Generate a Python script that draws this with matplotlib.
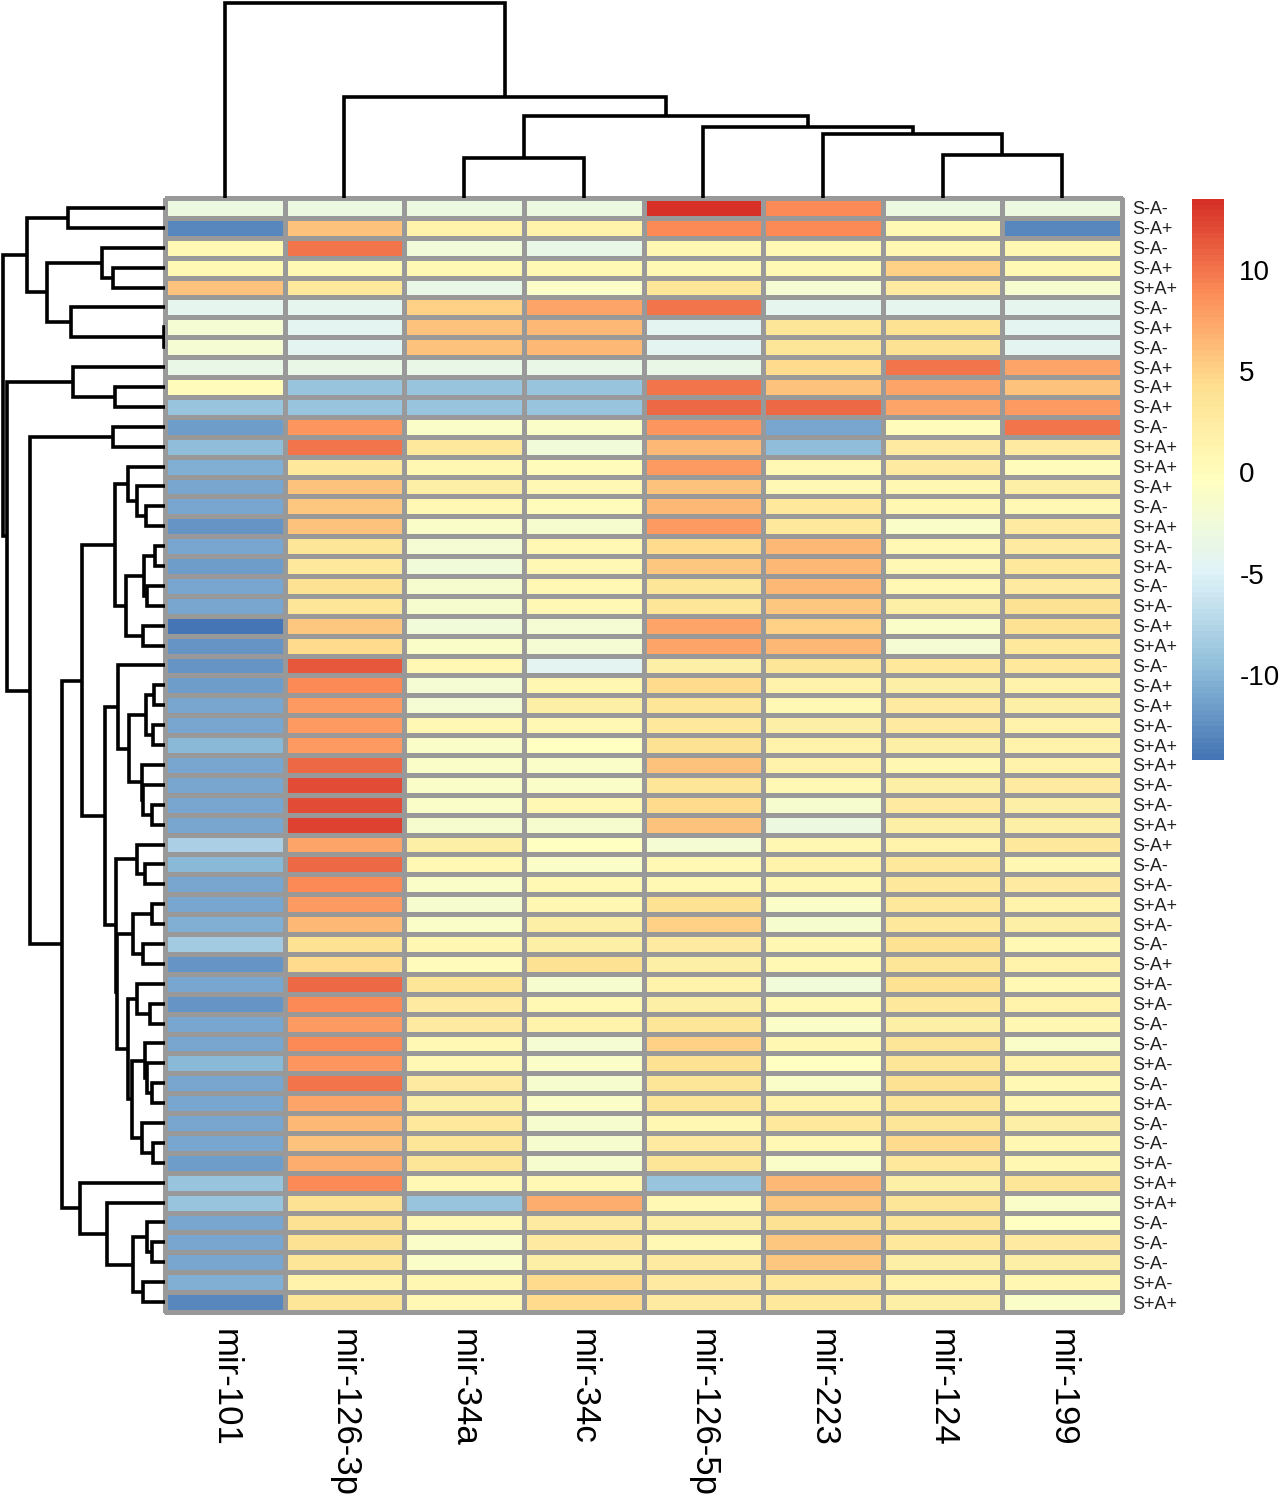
import numpy as np
import matplotlib
matplotlib.use("Agg")
import matplotlib.pyplot as plt
from matplotlib.colors import LinearSegmentedColormap

plt.rcParams['font.family'] = ['Liberation Sans', 'DejaVu Sans']
plt.rcParams['axes.unicode_minus'] = False

# column names (miRNAs), in dendrogram order
mirnas = ["mir-101", "mir-126-3p", "mir-34a", "mir-34c",
          "mir-126-5p", "mir-223", "mir-124", "mir-199"]

# row labels (samples), top to bottom
samples = ["S-A-", "S-A+", "S-A-", "S-A+", "S+A+", "S-A-", "S-A+", "S-A-",
           "S-A+", "S-A+", "S-A+", "S-A-", "S+A+", "S+A+", "S-A+", "S-A-",
           "S+A+", "S+A-", "S+A-", "S-A-", "S+A-", "S-A+", "S+A+", "S-A-",
           "S-A+", "S-A+", "S+A-", "S+A+", "S+A+", "S+A-", "S+A-", "S+A+",
           "S-A+", "S-A-", "S+A-", "S+A+", "S+A-", "S-A-", "S-A+", "S+A-",
           "S+A-", "S-A-", "S-A-", "S+A-", "S-A-", "S+A-", "S-A-", "S-A-",
           "S+A-", "S+A+", "S+A+", "S-A-", "S-A-", "S-A-", "S+A-", "S+A+"]

# expression values, one list per row (estimated from the colours)
values = [
    [-3, -3, -3, -3, 13.5, 9, -3, -3],
    [-13, 6, 1.5, 1.5, 9, 9, 0.5, -13],
    [0.5, 10, -2.5, -3.5, 1, 0.5, 1, 1],
    [0.5, 0.5, 0.5, 0.5, 0.5, 0.5, 5, 0.5],
    [6, 3, -3.5, -1, 3.5, -2, 2.5, -1.5],
    [-4, -4, 5, 7.5, 10, -4, -4, -4],
    [-2, -4.5, 6, 6.5, -4.5, 3.5, 4, -4.5],
    [-2, -4.5, 6, 6.5, -4.5, 3.5, 4, -4.5],
    [-3.5, -3.5, -3.5, -3.5, -3.5, 4.5, 10, 7.5],
    [0, -9, -9, -9, 10, 6, 7.5, 6],
    [-9, -9, -9, -9, 10.5, 10.5, 7.5, 8],
    [-11.5, 8.5, -1, -1, 8.5, -11, 0, 10],
    [-9.5, 10, 3, -2.5, 6.5, -9.5, 2.5, 2.5],
    [-10.5, 3, 1, 0, 8, 0.5, 2.5, 0],
    [-11, 6, 2, 0.5, 6, 0.5, 1, 2],
    [-11, 5.5, 0.5, 0, 6.5, 3, 1, 0.5],
    [-12, 6, -1, -1.5, 8, 3, -1, 2.5],
    [-11, 3.5, -2, 0.5, 4.5, 6.5, 0.5, 2.5],
    [-11.5, 3, -2.5, 0.5, 5.5, 6.5, 0.5, 3],
    [-11, 4, -1.5, 0.5, 3.5, 6.5, 0.5, 2.5],
    [-11, 3.5, -1.5, 0.5, 3.5, 5.5, 2, 4],
    [-14.2, 5.5, -2.5, -2, 7.5, 5, -1, 4],
    [-12, 4.5, -1, -2, 7.5, 6.5, -2, 3],
    [-12, 11.5, 0.5, -4.5, 2, 3.5, 3, 3],
    [-11.5, 9, -2, 1, 4.5, 1.5, 2, 1.5],
    [-11, 8, -2, 2, 3.5, 0.5, 2.5, 2],
    [-11, 8, 0.5, 0.5, 3, 2, 2.5, 1.5],
    [-10, 8, -1, -0.5, 4, 1.5, 2, 1.5],
    [-11, 10.5, -1, -1, 6, 1.5, 1, 1.5],
    [-11, 12, -1, -1, 3.5, 0.5, 2, 2.5],
    [-11, 12, -1, 0.5, 4.5, -1.5, 2.5, 2],
    [-11, 12.5, -1.5, -1.5, 6, -3, 2, 2],
    [-8, 7.5, 2, -0.5, -2, 1, 1.5, 3],
    [-10, 10.5, 0.5, -1, 0.5, 1.5, 3, 1],
    [-11, 9, -1, 0.5, 0.5, 1, 3, 2.5],
    [-11, 8, -1.5, 1, 4, -1, 3, 1.5],
    [-10.5, 6.5, -1, 2, 5, -1.5, 3, 2],
    [-8.5, 4, 1, 2, 2.5, 1, 4, 0.5],
    [-12, 4.5, 0, 4, 2, 0.5, 3.5, 1.5],
    [-11, 10.5, 3.5, -1.5, 1.5, -2.5, 4, 0.5],
    [-12, 9, 2.5, 0.5, 2, 0.5, 3, 1.5],
    [-11, 8, 2.5, 1.5, 3.5, -1, 2, 1],
    [-11, 9, 0.5, -2, 5, 1, 3.5, -1],
    [-10, 8.5, 0.5, -1, 4, -0.5, 3.5, 1.5],
    [-11, 10, 2.5, -1.5, 3.5, -1, 4, 0.5],
    [-11, 7.5, 2, -1, 3.5, 1.5, 3.5, 1],
    [-11, 6.5, 3, -1.5, 1, 3, 3.5, 2],
    [-11, 6, 3.5, -1.5, 2.5, 0.5, 4.5, 1],
    [-11.5, 7, 3.5, -1.5, 3.5, -1, 3, 1],
    [-9, 9, 0.5, 0.5, -9, 6.5, 2, 3.5],
    [-9, 4, -9, 7, 0.5, 5.5, 3.5, -1],
    [-11, 4, 0.5, 2.5, 2, 4, 3.5, -0.5],
    [-11, 4, -1, 2.5, 0.5, 5.5, 3, 2.5],
    [-11, 3.5, -1, 2, 2.5, 5.5, 2, 2],
    [-10.5, 1.5, 1, 4.5, 2.5, 3, 1.5, 1],
    [-13, 3.5, 0.5, 4.5, 2.5, 3, 2, -1],
]

# clustering trees: (merge height, left, right); ints are leaf positions
col_tree = (195, 0, (101, 1, (82, (40, 2, 3), (71, 4, (64, 5, (43, 6, 7))))))

rows_a = (138, (97, 0, 1), (118, (63, 2, (52, 3, 4)), (94, 5, (0.5, 6, 7))))
rows_c = (92, 8, (50, 9, 10))
rows_i = (50, (37, 13, (28, 14, (19, 15, 16))),
          (39, (21, (10, 17, 18), (18, 19, 20)), (22, 21, 22)))
rows_o = (47, 23, (36, (19, (11, 24, 25), (12, 26, 27)),
                   (23.3, 28, (21.7, 29, (13, 30, 31)))))
rows_u = (48.3, (32, (13, 35, 36), (22, 37, 38)),
          (37, (28, 39, (15, 40, 41)),
           (33, (20, 42, (18, 43, (13, 44, 45))), (23, 46, (12, 47, 48)))))
rows_p = (49, (28, 32, (20, 33, 34)), rows_u)
rows_h = (85, 49, (58, 50, (32, (18, 51, (13, 52, 53)), (22, 54, 55))))
row_tree = (162, rows_a,
            (158, rows_c,
             (135, (52, 11, 12),
              (103, (83, rows_i, (60, rows_o, rows_p)), rows_h))))

data = np.array(values)
vmin, vmax = data.min(), data.max()
cmap = LinearSegmentedColormap.from_list(
    "pheat", ["#4575B4", "#91BFDB", "#E0F3F8", "#FFFFBF",
              "#FEE090", "#FC8D59", "#D73027"], N=100)

W, H = 1280, 1504
fig = plt.figure(figsize=(W / 100, H / 100), dpi=100)

def box(x0, y0, x1, y1):
    return [x0 / W, 1 - y1 / H, (x1 - x0) / W, (y1 - y0) / H]

hm_left, hm_right, hm_top, hm_bottom = 165, 1122, 198, 1312

ax = fig.add_axes(box(hm_left, hm_top, hm_right, hm_bottom))
n_rows, n_cols = data.shape
mesh = ax.pcolormesh(np.arange(n_cols + 1), np.arange(n_rows + 1), data,
                     cmap=cmap, vmin=vmin, vmax=vmax,
                     edgecolors="#999999", linewidth=2.2)
mesh.set_clip_on(False)
ax.set_xlim(0, n_cols)
ax.set_ylim(n_rows, 0)
for s in ax.spines.values():
    s.set_visible(False)
ax.set_xticks(np.arange(n_cols) + 0.5)
ax.set_xticklabels(mirnas, rotation=-90, fontsize=25, va="top", ha="center")
ax.set_yticks(np.arange(n_rows) + 0.5)
ax.set_yticklabels(samples, fontsize=13, color="#222222")
ax.yaxis.tick_right()
ax.tick_params(axis="x", length=0, pad=12)
ax.tick_params(axis="y", length=0, pad=7)


def draw_tree(axis, node, side):
    if isinstance(node, int):
        return node + 0.5, 0.0
    h, left, right = node
    p1, h1 = draw_tree(axis, left, side)
    p2, h2 = draw_tree(axis, right, side)
    if side == "left":
        axis.plot([h1, h, h, h2], [p1, p1, p2, p2], color="black",
                  lw=2.6, solid_capstyle="butt", solid_joinstyle="miter")
    else:
        axis.plot([p1, p1, p2, p2], [h1, h, h, h2], color="black",
                  lw=2.6, solid_capstyle="butt", solid_joinstyle="miter")
    return (p1 + p2) / 2, h


# row dendrogram
ax_r = fig.add_axes(box(0, hm_top, hm_left, hm_bottom))
draw_tree(ax_r, row_tree, "left")
ax_r.set_xlim(row_tree[0] * 1.018, 0)
ax_r.set_ylim(n_rows, 0)
ax_r.axis("off")

# column dendrogram
ax_c = fig.add_axes(box(hm_left, 0, hm_right, hm_top))
draw_tree(ax_c, col_tree, "top")
ax_c.set_ylim(0, col_tree[0] * 1.015)
ax_c.set_xlim(0, n_cols)
ax_c.axis("off")

# colour bar
cax = fig.add_axes(box(1192, 199, 1224, 760))
cb = fig.colorbar(mesh, cax=cax, ticks=[-10, -5, 0, 5, 10])
cb.outline.set_visible(False)
cb.ax.tick_params(length=0, labelsize=20, pad=11)

fig.savefig("out.png", dpi=100)
